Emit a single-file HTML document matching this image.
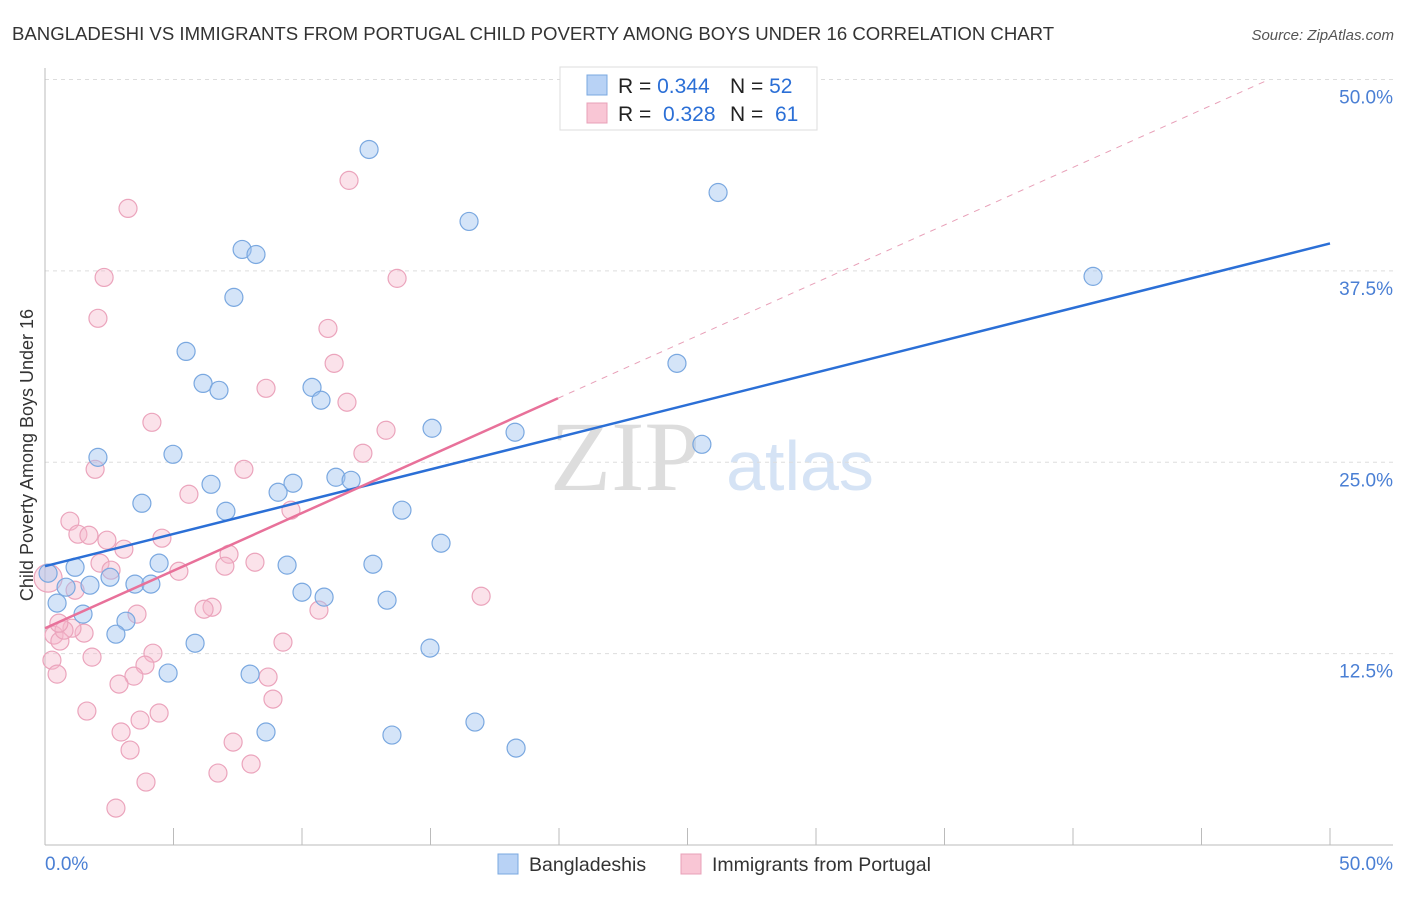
<!DOCTYPE html>
<html><head><meta charset="utf-8"><style>
body{margin:0;background:#fff;font-family:"Liberation Sans",sans-serif;}
</style></head><body>
<svg width="1406" height="892" xmlns="http://www.w3.org/2000/svg" id="chart">
<text x="12" y="40" font-size="18.6" fill="#333">BANGLADESHI VS IMMIGRANTS FROM PORTUGAL CHILD POVERTY AMONG BOYS UNDER 16 CORRELATION CHART</text>
<text x="1394" y="40" font-size="15" fill="#555" font-style="italic" text-anchor="end">Source: ZipAtlas.com</text>
<text x="625" y="490" font-size="100" fill="#ddd" font-family="Liberation Serif" text-anchor="middle">ZIP</text>
<text x="800" y="490" font-size="70" fill="#d5e3f5" text-anchor="middle">atlas</text>
<text transform="translate(33,455) rotate(-90)" font-size="18" fill="#333" text-anchor="middle">Child Poverty Among Boys Under 16</text>
<g id="grid"></g><g id="marks"></g>
<g>
<rect x="560" y="67" width="257" height="63" fill="#fff" stroke="#ddd"/>
<rect x="587" y="75" width="20" height="20" fill="#b8d2f5" stroke="#7aa8e0"/>
<rect x="587" y="103" width="20" height="20" fill="#f9c6d5" stroke="#e8a0b8"/>
<text x="618" y="93" font-size="21" fill="#222">R = <tspan fill="#2b6fd6">0.344</tspan></text>
<text x="730" y="93" font-size="21" fill="#222">N = <tspan fill="#2b6fd6">52</tspan></text>
<text x="618" y="121" font-size="21" fill="#222">R = <tspan fill="#2b6fd6">&#160;0.328</tspan></text>
<text x="730" y="121" font-size="21" fill="#222">N = <tspan fill="#2b6fd6">&#160;61</tspan></text>
</g>
<g>
<rect x="498" y="854" width="20" height="20" fill="#b8d2f5" stroke="#7aa8e0"/>
<text x="529" y="871" font-size="19.5" fill="#333">Bangladeshis</text>
<rect x="681" y="854" width="20" height="20" fill="#f9c6d5" stroke="#e8a0b8"/>
<text x="712" y="871" font-size="19.5" fill="#333">Immigrants from Portugal</text>
</g>
</svg>
<script>
const yTicks=[12.5,25,37.5,50];
const yTickLabels=["12.5%","25.0%","37.5%","50.0%"];
const blueX=[12.61,26.19,16.50,7.67,8.21,40.78,7.35,5.49,24.59,6.15,6.77,10.39,10.74,15.06,18.29,25.56,2.06,4.98,6.46,9.65,9.07,11.32,11.91,3.77,7.04,13.89,15.41,4.44,1.17,9.42,12.76,2.53,3.50,4.12,1.75,0.82,0.47,10.00,10.86,13.31,1.48,3.15,2.76,5.84,14.98,4.79,7.98,8.60,13.50,16.73,18.33,0.12];
const blueY=[45.43,42.62,40.73,38.90,38.57,37.14,35.77,32.24,31.46,30.15,29.70,29.89,29.05,27.22,26.96,26.17,25.32,25.52,23.56,23.63,23.04,24.02,23.82,22.32,21.80,21.87,19.71,18.41,18.14,18.28,18.34,17.49,17.04,17.04,16.97,16.84,15.80,16.51,16.19,15.99,15.08,14.62,13.77,13.18,12.86,11.23,11.16,7.38,7.18,8.03,6.33,17.75];
const pinkX=[3.23,11.83,2.30,13.70,2.06,11.01,11.25,8.60,11.75,4.16,13.27,12.37,1.95,7.74,5.60,9.57,0.97,1.28,1.71,2.41,4.55,3.07,7.16,8.17,2.14,2.57,5.21,7.00,0.12,1.17,3.58,6.50,6.19,10.66,16.97,0.35,0.58,1.52,1.05,0.74,1.83,0.27,4.20,9.26,3.89,0.47,3.46,8.68,2.88,8.87,1.63,4.44,3.70,2.96,7.32,3.31,8.02,6.73,3.93,2.76,0.54];
const pinkY=[41.58,43.41,37.07,37.01,34.40,33.74,31.46,29.83,28.92,27.61,27.09,25.59,24.54,24.54,22.91,21.87,21.15,20.30,20.23,19.91,20.04,19.32,18.99,18.47,18.41,17.95,17.88,18.21,17.43,16.64,15.08,15.53,15.40,15.34,16.25,13.71,13.32,13.84,14.16,14.03,12.27,12.07,12.53,13.25,11.75,11.16,11.03,10.97,10.51,9.53,8.75,8.62,8.16,7.38,6.72,6.20,5.29,4.70,4.11,2.41,14.49];
const blueTrend=[18.21,39.29];
const pinkTrend=[14.16,0.7525];
const NS="http://www.w3.org/2000/svg";
const X=v=>45+v/50*1285, Y=v=>845-v/50*765.5;
function mk(t,a,p){const e=document.createElementNS(NS,t);for(const k in a)e.setAttribute(k,a[k]);p.appendChild(e);return e;}
const g=document.getElementById('grid'), m=document.getElementById('marks');
yTicks.forEach((t,i)=>{
 const l=mk('line',{x1:45,x2:1393,y1:Y(t),y2:Y(t),stroke:'#ddd','stroke-dasharray':'4,4'},g);
 
 
 const tx=mk('text',{x:1393,y:Y(t)+24,'font-size':19,fill:'#4a7fd4','text-anchor':'end'},g);
 tx.textContent=yTickLabels[i];
 
 
});
let ax=mk('line',{x1:45,x2:1393,y1:845,y2:845,stroke:'#bbb'},g);


let ay=mk('line',{x1:45,x2:45,y1:68,y2:845,stroke:'#bbb'},g);


for(let i=0;i<=10;i++){const t=mk('line',{x1:X(i*5),x2:X(i*5),y1:828,y2:845,stroke:'#bbb'},g);
 
 }
[[0,"0.0%",'start',45],[50,"50.0%",'end',1393]].forEach(d=>{const t=mk('text',{x:d[3],y:870,'font-size':19,fill:'#4a7fd4','text-anchor':d[2]},g);t.textContent=d[1];
 
 });
pinkX.forEach((x,i)=>{const c=mk('circle',{cx:X(x),cy:Y(pinkY[i]),r:i==28?14:9,fill:'rgba(246,182,202,0.4)',stroke:'#eba4bc','stroke-width':1.2},m);
 
 });
blueX.forEach((x,i)=>{const c=mk('circle',{cx:X(x),cy:Y(blueY[i]),r:9,fill:'rgba(160,195,240,0.45)',stroke:'#7aa8e0','stroke-width':1.2},m);
 
 });
let bl=mk('line',{x1:X(0),y1:Y(blueTrend[0]),x2:X(50),y2:Y(blueTrend[1]),stroke:'#2b6fd6','stroke-width':2.5},m);


let pe=(50-pinkTrend[0])/pinkTrend[1];
let pd=mk('line',{x1:X(19.96),y1:Y(pinkTrend[0]+pinkTrend[1]*19.96),x2:X(pe),y2:Y(50),stroke:'#e8a0b8','stroke-width':1,'stroke-dasharray':'6,6'},m);


let pl=mk('line',{x1:X(0),y1:Y(pinkTrend[0]),x2:X(19.96),y2:Y(pinkTrend[0]+pinkTrend[1]*19.96),stroke:'#e8719a','stroke-width':2.5},m);


</script>
</body></html>
